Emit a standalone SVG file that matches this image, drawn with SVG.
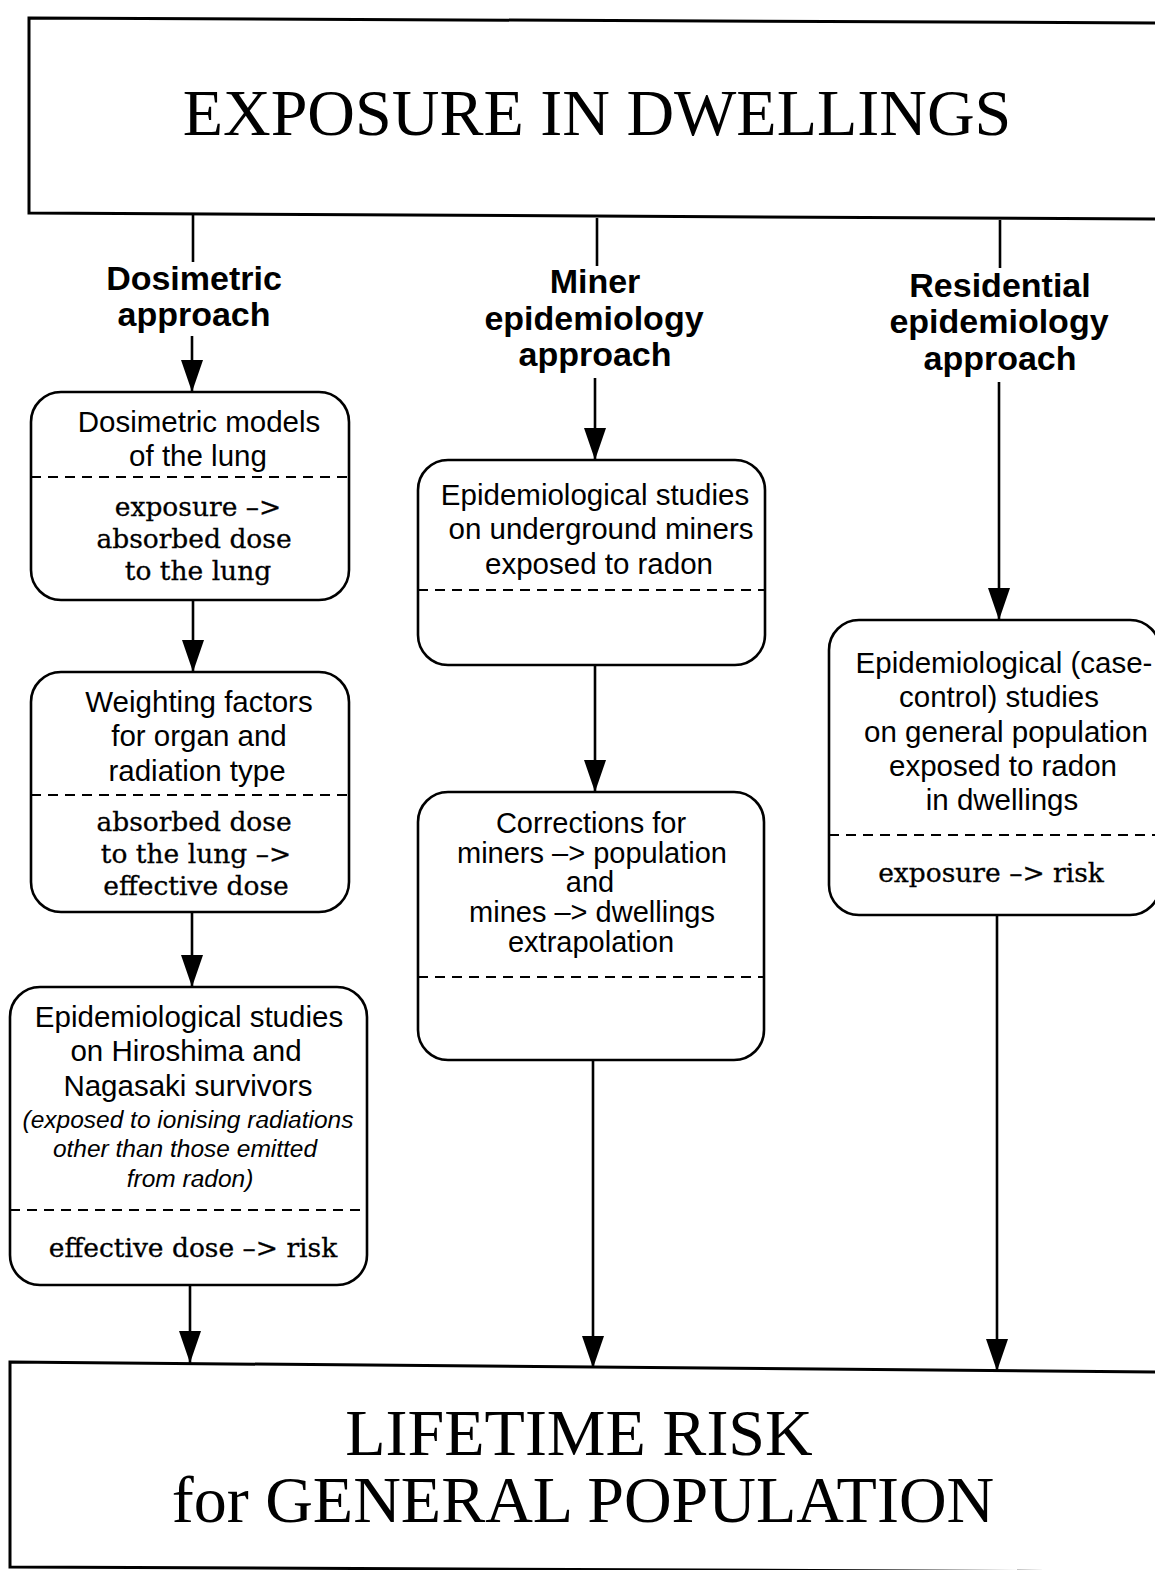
<svg xmlns="http://www.w3.org/2000/svg" width="1155" height="1570" viewBox="0 0 1155 1570">
<style>
.frame{fill:#fff;stroke:#000;stroke-width:3}
.box{fill:#fff;stroke:#000;stroke-width:2.6}
.dash{stroke:#000;stroke-width:2.2;stroke-dasharray:10 7;fill:none}
.conn{stroke:#000;stroke-width:2.6;fill:none}
.title{font-family:"Liberation Serif","Times New Roman",serif;font-size:66px;text-anchor:middle;fill:#000}
.lab{font-family:"Liberation Sans",Arial,sans-serif;font-weight:bold;font-size:34px;text-anchor:middle;fill:#000}
.sans{font-family:"Liberation Sans",Arial,sans-serif;font-size:29.5px;text-anchor:middle;fill:#000}
.sans2{font-family:"Liberation Sans",Arial,sans-serif;font-size:29px;text-anchor:middle;fill:#000}
.ital{font-family:"Liberation Sans",Arial,sans-serif;font-style:italic;font-size:24.5px;text-anchor:middle;fill:#000}
.serif{font-family:"DejaVu Serif","Liberation Serif",serif;font-size:26.5px;text-anchor:middle;fill:#000;stroke:#000;stroke-width:0.3}
</style>
<defs>
<marker id="ah" viewBox="0 0 32 22" refX="32" refY="11" markerWidth="32" markerHeight="22" markerUnits="userSpaceOnUse" orient="auto">
<path d="M0,0 L32,11 L0,22 z" fill="#000"/>
</marker>
</defs>
<rect width="1155" height="1570" fill="#fff"/>

<g id="connectors">
<line class="conn" x1="193" y1="215" x2="193" y2="262"/>
<line class="conn" x1="597" y1="218" x2="597" y2="266"/>
<line class="conn" x1="1000" y1="220" x2="1000" y2="268"/>
<line class="conn" x1="192" y1="336" x2="192" y2="392" marker-end="url(#ah)"/>
<line class="conn" x1="595" y1="378" x2="595" y2="460" marker-end="url(#ah)"/>
<line class="conn" x1="999" y1="382" x2="999" y2="620" marker-end="url(#ah)"/>
<line class="conn" x1="193" y1="600" x2="193" y2="672" marker-end="url(#ah)"/>
<line class="conn" x1="192" y1="912" x2="192" y2="987" marker-end="url(#ah)"/>
<line class="conn" x1="190" y1="1285" x2="190" y2="1363" marker-end="url(#ah)"/>
<line class="conn" x1="595" y1="665" x2="595" y2="792" marker-end="url(#ah)"/>
<line class="conn" x1="593" y1="1060" x2="593" y2="1368" marker-end="url(#ah)"/>
<line class="conn" x1="997" y1="915" x2="997" y2="1371" marker-end="url(#ah)"/>
</g>

<g id="exposure">
<path class="frame" d="M29,18 L1160,23 L1160,219 L29,213 Z"/>
<text class="title" x="597" y="135">EXPOSURE IN DWELLINGS</text>
</g>

<g id="label-dosimetric">
<text class="lab" x="194" y="290">Dosimetric</text>
<text class="lab" x="194" y="326">approach</text>
</g>
<g id="label-miner">
<text class="lab" x="595" y="293">Miner</text>
<text class="lab" x="594" y="330">epidemiology</text>
<text class="lab" x="595" y="366">approach</text>
</g>
<g id="label-residential">
<text class="lab" x="1000" y="297">Residential</text>
<text class="lab" x="999" y="333">epidemiology</text>
<text class="lab" x="1000" y="370">approach</text>
</g>

<g id="dosimetric-models">
<rect class="box" x="31" y="392" width="318" height="208" rx="30"/>
<line class="dash" x1="31" y1="477" x2="349" y2="477"/>
<text class="sans" x="199" y="432">Dosimetric models</text>
<text class="sans" x="198" y="466">of the lung</text>
<text class="serif" x="198" y="516">exposure –&gt;</text>
<text class="serif" x="194" y="548">absorbed dose</text>
<text class="serif" x="198" y="580">to the lung</text>
</g>

<g id="weighting-factors">
<rect class="box" x="31" y="672" width="318" height="240" rx="30"/>
<line class="dash" x1="31" y1="795" x2="349" y2="795"/>
<text class="sans" x="199" y="712">Weighting factors</text>
<text class="sans" x="199" y="746">for organ and</text>
<text class="sans" x="197" y="781">radiation type</text>
<text class="serif" x="194" y="831">absorbed dose</text>
<text class="serif" x="196" y="863">to the lung –&gt;</text>
<text class="serif" x="196" y="895">effective dose</text>
</g>

<g id="hiroshima">
<rect class="box" x="10" y="987" width="357" height="298" rx="30"/>
<line class="dash" x1="10" y1="1210" x2="367" y2="1210"/>
<text class="sans" x="189" y="1027">Epidemiological studies</text>
<text class="sans" x="186" y="1061">on Hiroshima and</text>
<text class="sans" x="188" y="1096">Nagasaki survivors</text>
<text class="ital" x="188" y="1128">(exposed to ionising radiations</text>
<text class="ital" x="185" y="1157">other than those emitted</text>
<text class="ital" x="190" y="1187">from radon)</text>
<text class="serif" x="193" y="1257">effective dose –&gt; risk</text>
</g>

<g id="miners">
<rect class="box" x="418" y="460" width="347" height="205" rx="30"/>
<line class="dash" x1="418" y1="590" x2="765" y2="590"/>
<text class="sans" x="595" y="505">Epidemiological studies</text>
<text class="sans" x="601" y="539">on underground miners</text>
<text class="sans" x="599" y="574">exposed to radon</text>
</g>

<g id="corrections">
<rect class="box" x="418" y="792" width="346" height="268" rx="30"/>
<line class="dash" x1="418" y1="977" x2="764" y2="977"/>
<text class="sans2" x="591" y="833">Corrections for</text>
<text class="sans2" x="592" y="863">miners –&gt; population</text>
<text class="sans2" x="590" y="892">and</text>
<text class="sans2" x="592" y="922">mines –&gt; dwellings</text>
<text class="sans2" x="591" y="952">extrapolation</text>
</g>

<g id="residential">
<rect class="box" x="829" y="620" width="331" height="295" rx="30"/>
<line class="dash" x1="829" y1="835" x2="1160" y2="835"/>
<text class="sans" x="1004" y="673">Epidemiological (case-</text>
<text class="sans" x="999" y="707">control) studies</text>
<text class="sans" x="1006" y="742">on general population</text>
<text class="sans" x="1003" y="776">exposed to radon</text>
<text class="sans" x="1002" y="810">in dwellings</text>
<text class="serif" x="991" y="882">exposure –&gt; risk</text>
</g>

<g id="lifetime-risk">
<path class="frame" d="M10,1362 L1160,1372 L1160,1572 L10,1567 Z"/>
<text class="title" x="579" y="1455">LIFETIME RISK</text>
<text class="title" x="583" y="1522">for GENERAL POPULATION</text>
</g>
</svg>
